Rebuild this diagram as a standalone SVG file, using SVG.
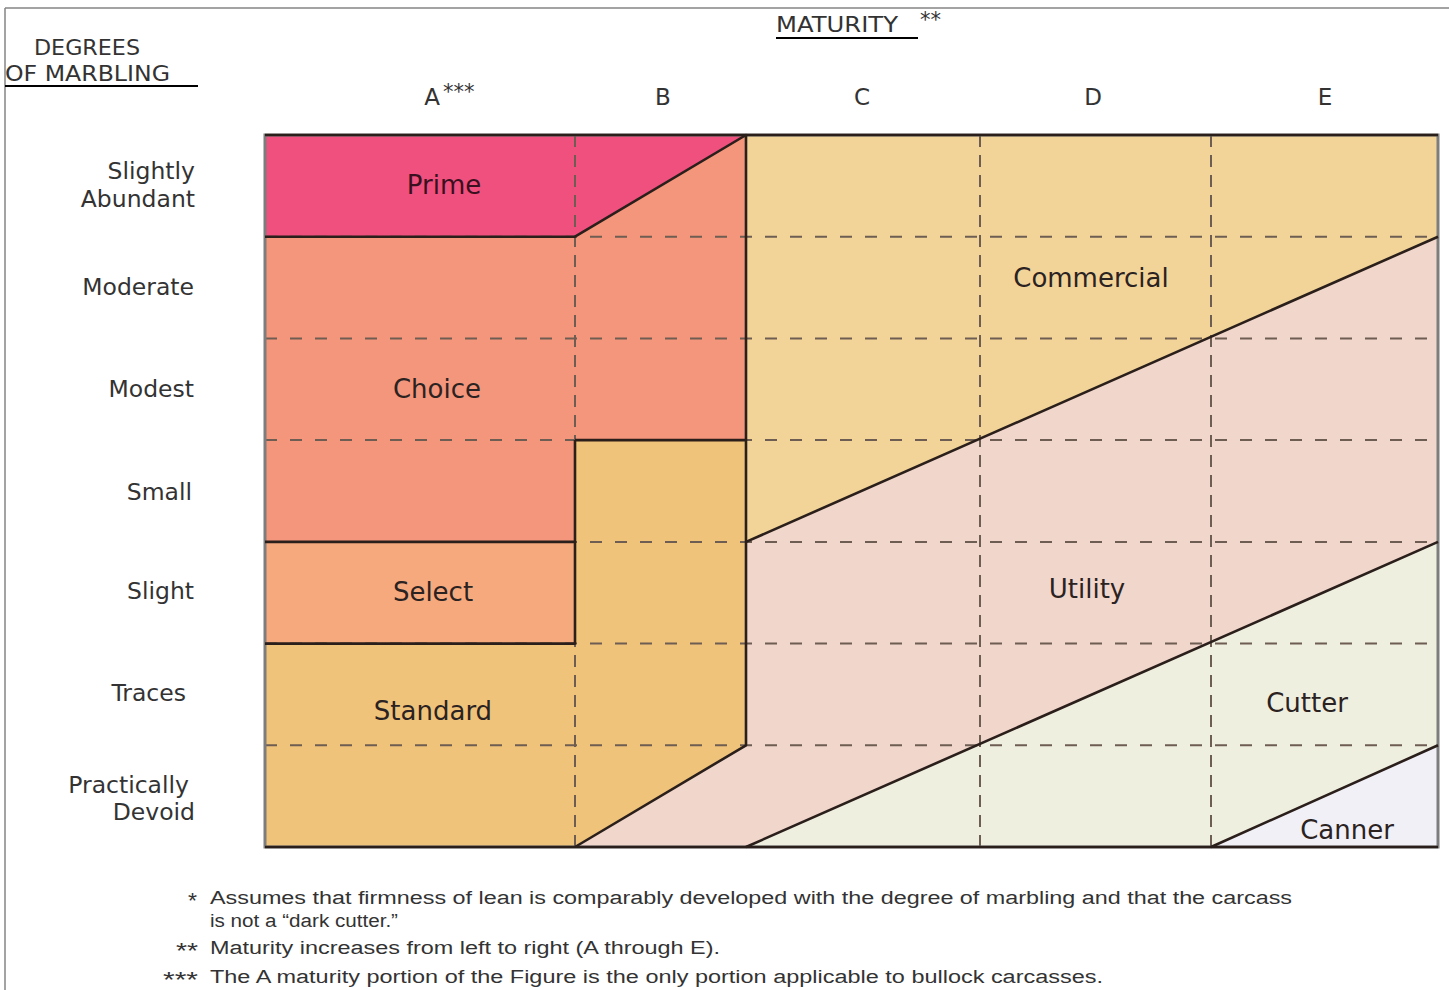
<svg xmlns="http://www.w3.org/2000/svg" width="1449" height="990" viewBox="0 0 1449 990">
<style>
.lbl{font-family:"DejaVu Sans","Liberation Sans",sans-serif;font-size:26px;fill:#2b2222}
.row{font-family:"DejaVu Sans","Liberation Sans",sans-serif;font-size:23.5px;fill:#333;text-anchor:end}
.col{font-family:"DejaVu Sans","Liberation Sans",sans-serif;font-size:23px;fill:#333;text-anchor:middle}
.hd{font-family:"DejaVu Sans","Liberation Sans",sans-serif;font-size:21px;fill:#333}
.fn{font-family:"Liberation Sans","DejaVu Sans",sans-serif;font-size:18px;fill:#333}
.ast{font-family:"Liberation Sans","DejaVu Sans",sans-serif;font-size:22px;fill:#333}
.dh{stroke:#6e5d52;stroke-width:2;stroke-dasharray:12 13;fill:none}
.dv{stroke:#6e5d52;stroke-width:2;stroke-dasharray:12 8;fill:none}
.bd{stroke:#2a1f1a;stroke-width:2.6;fill:none;stroke-linejoin:round}
</style>
<rect width="1449" height="990" fill="#ffffff"/>
<!-- frame -->
<path d="M5,8 H1449 M5,8 V990" stroke="#858585" stroke-width="1.5" fill="none"/>

<!-- headers -->
<g id="axis-y-title">
<text class="hd" x="34" y="55" textLength="106" lengthAdjust="spacingAndGlyphs">DEGREES</text>
<text class="hd" x="5" y="81" textLength="165" lengthAdjust="spacingAndGlyphs">OF MARBLING</text>
<line x1="5" y1="86" x2="198" y2="86" stroke="#000" stroke-width="2.2"/>
</g>
<g id="axis-x-title">
<text class="hd" x="776" y="32" textLength="122" lengthAdjust="spacingAndGlyphs">MATURITY</text>
<text class="hd" x="920" y="27" font-size="14">**</text>
<line x1="776" y1="38" x2="918" y2="38" stroke="#000" stroke-width="2.2"/>
</g>
<g id="col-headers">
<text class="col" x="432" y="105">A</text>
<text class="hd" x="443" y="99" font-size="14">***</text>
<text class="col" x="663" y="105">B</text>
<text class="col" x="862" y="105">C</text>
<text class="col" x="1093" y="105">D</text>
<text class="col" x="1325" y="105">E</text>
</g>
<g id="row-headers">
<text class="row" x="195" y="179">Slightly</text>
<text class="row" x="195" y="207">Abundant</text>
<text class="row" x="194" y="295">Moderate</text>
<text class="row" x="194" y="397">Modest</text>
<text class="row" x="192" y="500">Small</text>
<text class="row" x="194" y="599">Slight</text>
<text class="row" x="186" y="701">Traces</text>
<text class="row" x="189" y="793">Practically</text>
<text class="row" x="195" y="820">Devoid</text>
</g>

<!-- regions -->
<g id="prime"><polygon points="265,135 746,135 575,236.7 265,236.7" fill="#EF507E"/></g>
<g id="choice"><polygon points="265,236.7 575,236.7 746,135 746,440.1 575,440.1 575,541.9 265,541.9" fill="#F4967B"/></g>
<g id="select"><rect x="265" y="541.9" width="310" height="101.7" fill="#F6A97C"/></g>
<g id="standard"><polygon points="265,643.6 575,643.6 575,440.1 746,440.1 746,745.3 575,847 265,847" fill="#F0C37A"/></g>
<g id="commercial"><polygon points="746,135 1438,135 1438,236.7 746,541.9" fill="#F2D499"/></g>
<g id="utility"><polygon points="575,847 746,745.3 746,541.9 1438,236.7 1438,541.9 746,847" fill="#F1D6CB"/></g>
<g id="cutter"><polygon points="746,847 1438,541.9 1438,745.3 1211,847" fill="#EFEFE0"/></g>
<g id="canner"><polygon points="1211,847 1438,745.3 1438,847" fill="#F1F0F7"/></g>

<!-- grid lines -->
<g id="connectors">
<g id="grid">
<path class="dh" d="M265,236.7 H1438 M265,338.4 H1438 M265,440.1 H1438 M265,541.9 H1438 M265,643.6 H1438 M265,745.3 H1438"/>
<path class="dv" d="M575,135 V847 M980,135 V847 M1211,135 V847"/>
</g>
<rect x="265" y="135" width="1173" height="712" fill="none" stroke="#7d7d7d" stroke-width="3"/>
<g id="borders">
<path class="bd" d="M265,135 H1438 M265,847 H1438"/>
<path class="bd" d="M265,236.7 H575 L746,135 V745.3 L575,847"/>
<path class="bd" d="M575,440.1 H746 M575,440.1 V643.6 H265 M265,541.9 H575"/>
<path class="bd" d="M746,541.9 L1438,236.7 M746,847 L1438,541.9 M1211,847 L1438,745.3"/>
</g>
</g>

<!-- region labels -->
<text class="lbl" x="444" y="194" text-anchor="middle" style="fill:#3a1020">Prime</text>
<text class="lbl" x="437" y="398" text-anchor="middle">Choice</text>
<text class="lbl" x="433" y="601" text-anchor="middle">Select</text>
<text class="lbl" x="433" y="720" text-anchor="middle">Standard</text>
<text class="lbl" x="1091" y="287" text-anchor="middle">Commercial</text>
<text class="lbl" x="1087" y="598" text-anchor="middle">Utility</text>
<text class="lbl" x="1307" y="712" text-anchor="middle">Cutter</text>
<text class="lbl" x="1347" y="839" text-anchor="middle">Canner</text>

<!-- footnotes -->
<g id="footnotes">
<text class="ast" x="188" y="908" textLength="9" lengthAdjust="spacingAndGlyphs">*</text>
<text class="fn" x="210" y="904" textLength="1082" lengthAdjust="spacingAndGlyphs">Assumes that firmness of lean is comparably developed with the degree of marbling and that the carcass</text>
<text class="fn" x="210" y="927" textLength="188" lengthAdjust="spacingAndGlyphs">is not a “dark cutter.”</text>
<text class="ast" x="176" y="958" textLength="22" lengthAdjust="spacingAndGlyphs">**</text>
<text class="fn" x="210" y="954" textLength="510" lengthAdjust="spacingAndGlyphs">Maturity increases from left to right (A through E).</text>
<text class="ast" x="163" y="987" textLength="35" lengthAdjust="spacingAndGlyphs">***</text>
<text class="fn" x="210" y="983" textLength="893" lengthAdjust="spacingAndGlyphs">The A maturity portion of the Figure is the only portion applicable to bullock carcasses.</text>
</g>
</svg>
